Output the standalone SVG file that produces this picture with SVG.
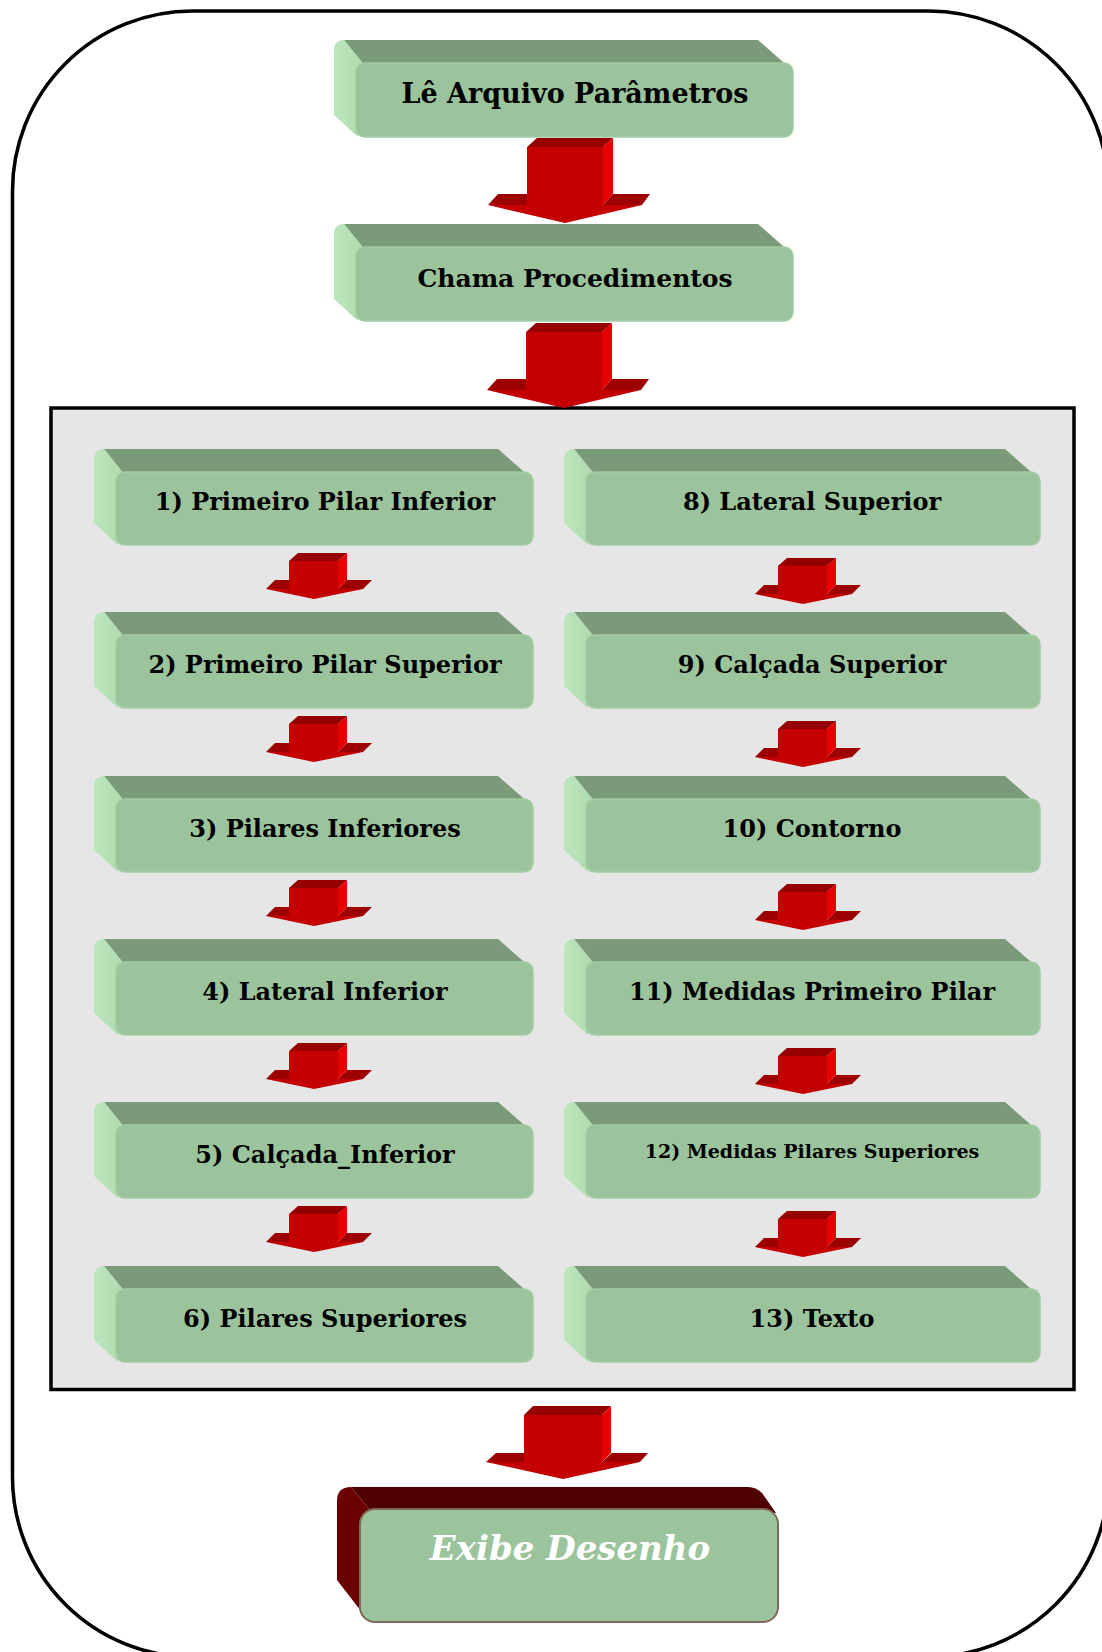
<svg xmlns="http://www.w3.org/2000/svg" width="1102" height="1652" viewBox="0 0 1102 1652">
<defs>
<linearGradient id="gSide" x1="0" y1="0" x2="1" y2="0">
<stop offset="0" stop-color="#BDE6BD"/>
<stop offset="1" stop-color="#ADDAAD"/>
</linearGradient>
<style>
.top{fill:#7A9A7A}
.side{fill:url(#gSide)}
.front{fill:#9CC49C;stroke:#A3CCA3;stroke-width:1.5}
.lbl{font-family:"DejaVu Serif","Liberation Serif",serif;font-weight:bold;font-size:24px;fill:#000;text-anchor:middle}
.sm{font-size:19px}
.t27{font-size:27px}
.t25{font-size:25px}
.aw{fill:#9C0000}
.af{fill:#C40000}
.at{fill:#950000}
.ar{fill:#E60000}
</style>
</defs>
<rect x="0" y="0" width="1102" height="1652" fill="#FFFFFF"/>
<rect id="frame" x="12.5" y="11" width="1096" height="1646" rx="180" ry="180" fill="none" stroke="#000" stroke-width="3.5"/>
<rect id="panel" x="51" y="408" width="1023" height="981.5" fill="#E6E6E6" stroke="#000" stroke-width="3.5"/>

<g id="nodes">
<g id="n_le" transform="translate(356,63)">
<path class="top" d="M8,2 L-12,-23 L402,-23 L435,6 Z"/>
<path class="side" d="M8,2 L-12,-23 Q-22,-23 -22,-12 L-22,52 L2,74 Z"/>
<rect class="front" x="0" y="0" width="437" height="74" rx="9"/>
<text class="lbl t27" x="219" y="40">Lê Arquivo Parâmetros</text>
</g>
<g id="n_chama" transform="translate(356,247)">
<path class="top" d="M8,2 L-12,-23 L402,-23 L435,6 Z"/>
<path class="side" d="M8,2 L-12,-23 Q-22,-23 -22,-12 L-22,52 L2,74 Z"/>
<rect class="front" x="0" y="0" width="437" height="74" rx="9"/>
<text class="lbl t25" x="219" y="40">Chama Procedimentos</text>
</g>

<g id="n1" transform="translate(116,472)">
<path class="top" d="M8,2 L-12,-23 L382,-23 L415,6 Z"/>
<path class="side" d="M8,2 L-12,-23 Q-22,-23 -22,-12 L-22,51 L2,73 Z"/>
<rect class="front" x="0" y="0" width="417" height="73" rx="9"/>
<text class="lbl" x="209" y="38">1) Primeiro Pilar Inferior</text>
</g>
<g id="n2" transform="translate(116,635)">
<path class="top" d="M8,2 L-12,-23 L382,-23 L415,6 Z"/>
<path class="side" d="M8,2 L-12,-23 Q-22,-23 -22,-12 L-22,51 L2,73 Z"/>
<rect class="front" x="0" y="0" width="417" height="73" rx="9"/>
<text class="lbl" x="209" y="38">2) Primeiro Pilar Superior</text>
</g>
<g id="n3" transform="translate(116,799)">
<path class="top" d="M8,2 L-12,-23 L382,-23 L415,6 Z"/>
<path class="side" d="M8,2 L-12,-23 Q-22,-23 -22,-12 L-22,51 L2,73 Z"/>
<rect class="front" x="0" y="0" width="417" height="73" rx="9"/>
<text class="lbl" x="209" y="38">3) Pilares Inferiores</text>
</g>
<g id="n4" transform="translate(116,962)">
<path class="top" d="M8,2 L-12,-23 L382,-23 L415,6 Z"/>
<path class="side" d="M8,2 L-12,-23 Q-22,-23 -22,-12 L-22,51 L2,73 Z"/>
<rect class="front" x="0" y="0" width="417" height="73" rx="9"/>
<text class="lbl" x="209" y="38">4) Lateral Inferior</text>
</g>
<g id="n5" transform="translate(116,1125)">
<path class="top" d="M8,2 L-12,-23 L382,-23 L415,6 Z"/>
<path class="side" d="M8,2 L-12,-23 Q-22,-23 -22,-12 L-22,51 L2,73 Z"/>
<rect class="front" x="0" y="0" width="417" height="73" rx="9"/>
<text class="lbl" x="209" y="38">5) Calçada_Inferior</text>
</g>
<g id="n6" transform="translate(116,1289)">
<path class="top" d="M8,2 L-12,-23 L382,-23 L415,6 Z"/>
<path class="side" d="M8,2 L-12,-23 Q-22,-23 -22,-12 L-22,51 L2,73 Z"/>
<rect class="front" x="0" y="0" width="417" height="73" rx="9"/>
<text class="lbl" x="209" y="38">6) Pilares Superiores</text>
</g>

<g id="n8" transform="translate(586,472)">
<path class="top" d="M8,2 L-12,-23 L419,-23 L452,6 Z"/>
<path class="side" d="M8,2 L-12,-23 Q-22,-23 -22,-12 L-22,51 L2,73 Z"/>
<rect class="front" x="0" y="0" width="454" height="73" rx="9"/>
<text class="lbl" x="226" y="38">8) Lateral Superior</text>
</g>
<g id="n9" transform="translate(586,635)">
<path class="top" d="M8,2 L-12,-23 L419,-23 L452,6 Z"/>
<path class="side" d="M8,2 L-12,-23 Q-22,-23 -22,-12 L-22,51 L2,73 Z"/>
<rect class="front" x="0" y="0" width="454" height="73" rx="9"/>
<text class="lbl" x="226" y="38">9) Calçada Superior</text>
</g>
<g id="n10" transform="translate(586,799)">
<path class="top" d="M8,2 L-12,-23 L419,-23 L452,6 Z"/>
<path class="side" d="M8,2 L-12,-23 Q-22,-23 -22,-12 L-22,51 L2,73 Z"/>
<rect class="front" x="0" y="0" width="454" height="73" rx="9"/>
<text class="lbl" x="226" y="38">10) Contorno</text>
</g>
<g id="n11" transform="translate(586,962)">
<path class="top" d="M8,2 L-12,-23 L419,-23 L452,6 Z"/>
<path class="side" d="M8,2 L-12,-23 Q-22,-23 -22,-12 L-22,51 L2,73 Z"/>
<rect class="front" x="0" y="0" width="454" height="73" rx="9"/>
<text class="lbl" x="226" y="38">11) Medidas Primeiro Pilar</text>
</g>
<g id="n12" transform="translate(586,1125)">
<path class="top" d="M8,2 L-12,-23 L419,-23 L452,6 Z"/>
<path class="side" d="M8,2 L-12,-23 Q-22,-23 -22,-12 L-22,51 L2,73 Z"/>
<rect class="front" x="0" y="0" width="454" height="73" rx="9"/>
<text class="lbl sm" x="226" y="33">12) Medidas Pilares Superiores</text>
</g>
<g id="n13" transform="translate(586,1289)">
<path class="top" d="M8,2 L-12,-23 L419,-23 L452,6 Z"/>
<path class="side" d="M8,2 L-12,-23 Q-22,-23 -22,-12 L-22,51 L2,73 Z"/>
<rect class="front" x="0" y="0" width="454" height="73" rx="9"/>
<text class="lbl" x="226" y="38">13) Texto</text>
</g>

<g id="n_exibe" transform="translate(360,1509)">
<path fill="#4E0000" d="M10,1 L-9,-22 L388,-22 Q396,-22 402,-16 L416,4 Z"/>
<path fill="#6A0000" d="M10,1 L-9,-22 Q-23,-22 -23,-8 L-23,71 L4,106 Z"/>
<rect x="0" y="0" width="418" height="113" rx="15" fill="#9CC49C" stroke="#7E6A58" stroke-width="2"/>
<text x="210" y="51" font-family="DejaVu Serif, Liberation Serif, serif" font-weight="bold" font-style="italic" font-size="34" fill="#FFFFFF" text-anchor="middle">Exibe Desenho</text>
</g>
</g>

<g id="connectors">
<defs>
<g id="bigArrow">
<path class="aw" d="M-39,58 L-29,47 L5,47 L5,58 Z"/>
<path class="aw" d="M76,58 L86,47 L123,47 L115,58 Z"/>
<path class="af" d="M0,0 L76,0 L76,58 L115,58 L38,76 L-39,58 L0,58 Z"/>
<path class="at" d="M0,0 L10,-9 L86,-9 L76,0 Z"/>
<path class="ar" d="M76,0 L86,-9 L86,47 L76,58 Z"/>
</g>
<g id="smallArrow">
<path class="aw" d="M-23,28 L-14,19 L5,19 L5,28 Z"/>
<path class="aw" d="M49,28 L58,19 L83,19 L74,28 Z"/>
<path class="af" d="M0,0 L49,0 L49,28 L74,28 L25,38 L-23,28 L0,28 Z"/>
<path class="at" d="M0,0 L9,-8 L58,-8 L49,0 Z"/>
<path class="ar" d="M49,0 L58,-8 L58,19 L49,28 Z"/>
</g>
</defs>
<use href="#bigArrow" transform="translate(527,147)"/>
<use href="#bigArrow" transform="translate(526,332)"/>
<g transform="translate(524,1415)">
<path class="aw" d="M-38,47 L-28,38 L5,38 L5,47 Z"/>
<path class="aw" d="M78,47 L88,38 L124,38 L116,47 Z"/>
<path class="af" d="M0,0 L78,0 L78,47 L116,47 L39,64 L-38,47 L0,47 Z"/>
<path class="at" d="M0,0 L9,-9 L87,-9 L78,0 Z"/>
<path class="ar" d="M78,0 L87,-9 L87,38 L78,47 Z"/>
</g>
<use href="#smallArrow" transform="translate(289,561)"/>
<use href="#smallArrow" transform="translate(289,724)"/>
<use href="#smallArrow" transform="translate(289,888)"/>
<use href="#smallArrow" transform="translate(289,1051)"/>
<use href="#smallArrow" transform="translate(289,1214)"/>
<use href="#smallArrow" transform="translate(778,566)"/>
<use href="#smallArrow" transform="translate(778,729)"/>
<use href="#smallArrow" transform="translate(778,892)"/>
<use href="#smallArrow" transform="translate(778,1056)"/>
<use href="#smallArrow" transform="translate(778,1219)"/>
</g>
</svg>
